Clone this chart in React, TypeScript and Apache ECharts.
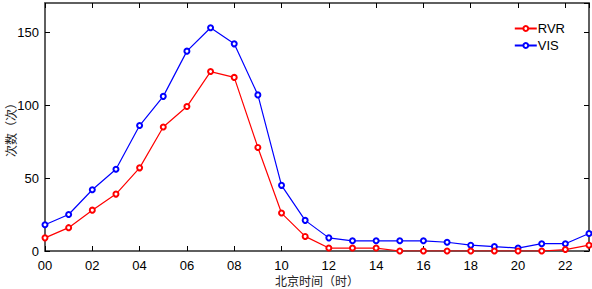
import React, { useEffect, useRef } from "react";
import * as echarts from "echarts";

const hours = Array.from({ length: 24 }, (_, i) => i);
const tickLabels = ["00", "02", "04", "06", "08", "10", "12", "14", "16", "18", "20", "22"];
const rvr = [9, 16, 28, 39, 57, 85, 99, 123, 119, 71, 26, 10, 2, 2, 2, 0, 0, 0, 0, 0, 0, 0, 1, 4];
const vis = [18, 25, 42, 56, 86, 106, 137, 153, 142, 107, 45, 21, 9, 7, 7, 7, 7, 6, 4, 3, 2, 5, 5, 12];

const axisColor = "#555555";

export default function App() {
  const ref = useRef<HTMLDivElement>(null);
  useEffect(() => {
    if (!ref.current) return;
    const chart = echarts.init(ref.current, null, { renderer: "svg" });
    const mk = (name: string, data: number[], color: string) => ({
      name,
      type: "line",
      data: hours.map((h, i) => [h, data[i]]),
      lineStyle: { color, width: 1.2 },
      itemStyle: { color, borderColor: color, borderWidth: 1.2 },
      symbol: "emptyCircle",
      symbolSize: 5,
      showSymbol: true,
      z: name === "RVR" ? 3 : 2,
    });
    const tick = { show: true, inside: true, length: 5, lineStyle: { color: "#000" } };
    chart.setOption({
      animation: false,
      backgroundColor: "#ffffff",
      grid: {
        left: 45,
        right: 3,
        top: 3,
        bottom: 38,
        containLabel: false,
        outerBoundsMode: "none",
        show: true,
        borderColor: axisColor,
        borderWidth: 1.5,
      },
      legend: {
        right: 22,
        top: 17,
        orient: "vertical",
        itemWidth: 22,
        itemHeight: 6,
        itemGap: 4,
        textStyle: { fontFamily: "Liberation Sans, Arial", fontSize: 13, color: "#000", padding: [0, 0, 0, -4] },
        data: ["RVR", "VIS"],
      },
      xAxis: [
        {
          type: "value",
          min: 0,
          max: 23,
          interval: 2,
          position: "bottom",
          name: "北京时间（时）",
          nameLocation: "middle",
          nameGap: 23,
          nameMoveOverlap: false,
          nameTextStyle: { fontFamily: "Noto Sans CJK SC", fontSize: 12, color: "#222" },
          axisLine: { show: true, lineStyle: { color: axisColor, width: 1.5 } },
          axisTick: tick,
          axisLabel: {
            fontFamily: "Liberation Sans, Arial",
            fontSize: 13,
            color: "#000",
            margin: 8,
            formatter: (v: number) => (v % 2 === 0 && v <= 22 ? tickLabels[v / 2] : ""),
          },
          splitLine: { show: false },
        },
        {
          type: "value",
          min: 0,
          max: 23,
          interval: 2,
          position: "top",
          axisLine: { show: true, onZero: false, lineStyle: { color: axisColor, width: 1.5 } },
          axisTick: tick,
          axisLabel: { show: false },
          splitLine: { show: false },
        },
      ],
      yAxis: [
        {
          type: "value",
          min: 0,
          max: 170,
          interval: 50,
          position: "left",
          name: "次数（次）",
          nameLocation: "middle",
          nameGap: 29,
          nameMoveOverlap: false,
          nameTextStyle: { fontFamily: "Noto Sans CJK SC", fontSize: 12, color: "#222" },
          axisLine: { show: true, lineStyle: { color: axisColor, width: 1.5 } },
          axisTick: tick,
          axisLabel: {
            fontFamily: "Liberation Sans, Arial",
            fontSize: 13,
            color: "#000",
            margin: 6,
            showMaxLabel: false,
          },
          splitLine: { show: false },
        },
        {
          type: "value",
          min: 0,
          max: 170,
          interval: 50,
          position: "right",
          axisLine: { show: true, onZero: false, lineStyle: { color: axisColor, width: 1.5 } },
          axisTick: tick,
          axisLabel: { show: false },
          splitLine: { show: false },
        },
      ],
      series: [mk("RVR", rvr, "#ff0000"), mk("VIS", vis, "#0000ff")],
    });
    return () => chart.dispose();
  }, []);
  return <div ref={ref} style={{ width: 592, height: 289, position: "absolute", left: 0, top: 0 }} />;
}
